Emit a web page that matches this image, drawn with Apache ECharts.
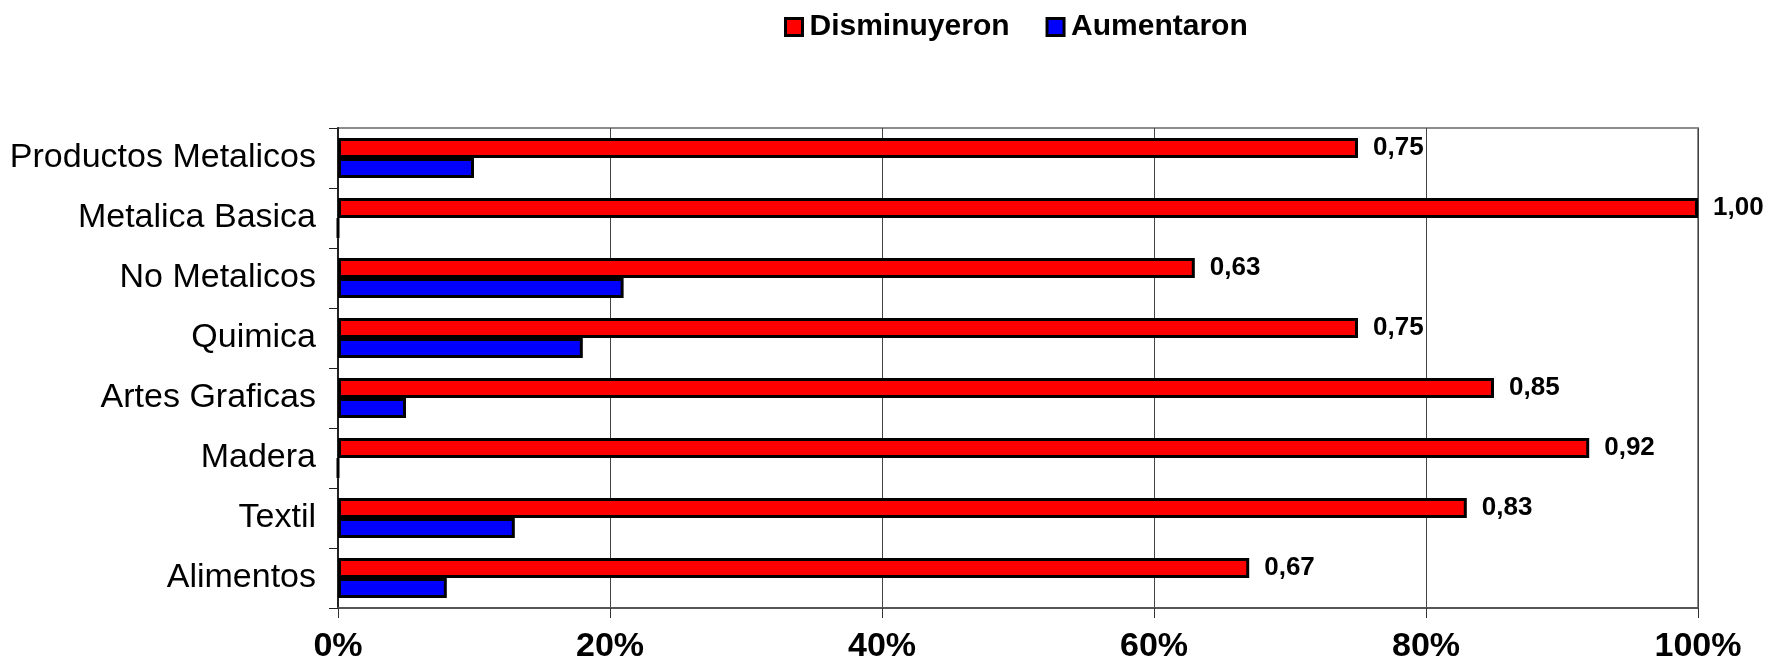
<!DOCTYPE html>
<html>
<head>
<meta charset="utf-8">
<script src="https://cdn.jsdelivr.net/npm/echarts@6/dist/echarts.min.js"></script>
<style>
  html, body { margin: 0; padding: 0; background: #fff; }
  #main { width: 1771px; height: 664px; }
</style>
</head>
<body>
<div id="main"></div>
<script>
// categories bottom to top (ECharts y category axis starts at the bottom)
var categories = ['Alimentos', 'Textil', 'Madera', 'Artes Graficas', 'Quimica', 'No Metalicos', 'Metalica Basica', 'Productos Metalicos'];
var disminuyeron = [0.67, 0.83, 0.92, 0.85, 0.75, 0.63, 1.00, 0.75];
var aumentaron = [0.08, 0.13, 0, 0.05, 0.18, 0.21, 0, 0.10];
var xTicks = [0, 0.2, 0.4, 0.6, 0.8, 1.0];

var chart = echarts.init(document.getElementById('main'));

var option = {
  animation: false,
  legend: {
    data: ['Disminuyeron', 'Aumentaron'],
    left: 779,
    top: 7,
    itemWidth: 17,
    itemHeight: 17,
    itemGap: 36,
    icon: 'rect',
    itemStyle: { borderColor: '#000', borderWidth: 3 },
    textStyle: { fontFamily: 'Liberation Sans, Arial', fontWeight: 'bold', fontSize: 30, color: '#000', padding: [0, 0, 0, 2] }
  },
  grid: {
    left: 338, right: 73, top: 128, bottom: 56,
    show: true, borderColor: '#8c8c8c', borderWidth: 2, backgroundColor: '#fff'
  },
  xAxis: {
    type: 'value',
    min: xTicks[0],
    max: xTicks[xTicks.length - 1],
    interval: 0.2,
    axisLine: { show: true, lineStyle: { color: '#555', width: 2 } },
    axisTick: { show: true, length: 10, lineStyle: { color: '#333', width: 1 } },
    splitLine: { show: true, lineStyle: { color: '#444', width: 1 } },
    axisLabel: {
      margin: 22,
      fontFamily: 'Liberation Sans, Arial', fontWeight: 'bold', fontSize: 34, color: '#000',
      formatter: function (v) { return Math.round(v * 100) + '%'; }
    }
  },
  yAxis: {
    type: 'category',
    data: categories,
    axisLine: { show: true, lineStyle: { color: '#222', width: 2 } },
    axisTick: { show: true, length: 9, lineStyle: { color: '#222', width: 1 } },
    axisLabel: {
      margin: 22,
      fontFamily: 'Liberation Sans, Arial', fontSize: 34, color: '#000'
    }
  },
  series: [
    {
      name: 'Disminuyeron',
      type: 'bar',
      data: disminuyeron,
      barWidth: 20,
      barGap: '0%',
      itemStyle: { color: '#ff0000', borderColor: '#000', borderWidth: 3 },
      label: {
        show: true,
        position: 'right',
        distance: 15,
        fontFamily: 'Liberation Sans, Arial', fontWeight: 'bold', fontSize: 26, color: '#000',
        formatter: function (p) { return p.value.toFixed(2).replace('.', ','); }
      }
    },
    {
      name: 'Aumentaron',
      type: 'bar',
      data: aumentaron,
      barWidth: 20,
      barGap: '0%',
      itemStyle: { color: '#0000ff', borderColor: '#000', borderWidth: 3 }
    }
  ]
};

chart.setOption(option);
</script>
</body>
</html>
